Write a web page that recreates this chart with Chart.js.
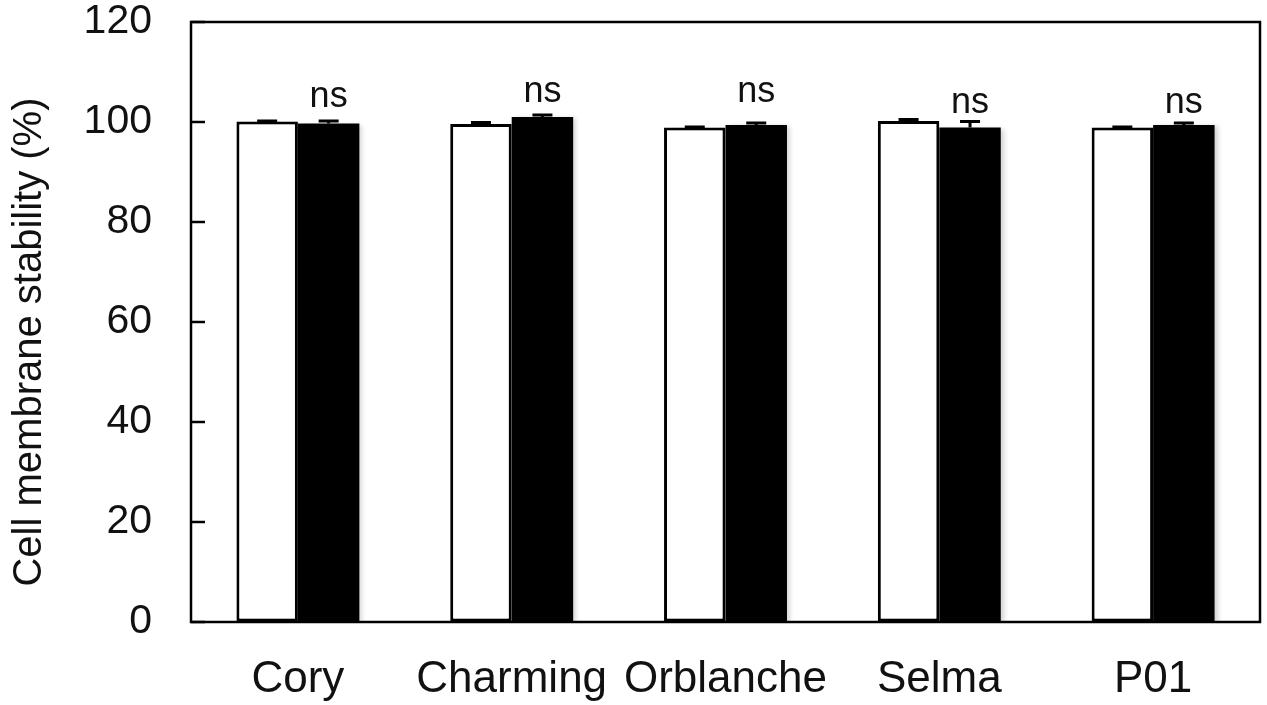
<!DOCTYPE html>
<html lang="en">
<head>
    <meta charset="UTF-8">
    <title>Cell membrane stability</title>
    <script src="https://cdn.jsdelivr.net/npm/chart.js"></script>
    <style>
        body {
            margin: 0;
            padding: 0;
            background-color: #ffffff;
        }
        .wrap {
            width: 1267px;
            height: 705px;
        }
    </style>
</head>
<body>
    <div class="wrap">
        <canvas id="chart"></canvas>
    </div>

    <script>
        // values
        const categories = ['Cory', 'Charming', 'Orblanche', 'Selma', 'P01'];
        const controlValues = [100.1, 99.6, 98.9, 100.2, 98.9];
        const controlErrors = [0.1, 0.3, 0.1, 0.3, 0.1];
        const treatedValues = [99.7, 101.0, 99.4, 98.9, 99.4];
        const treatedErrors = [0.5, 0.4, 0.4, 1.2, 0.4];
        const sigLabels = ['ns', 'ns', 'ns', 'ns', 'ns'];
        const sigLevels = [103.0, 104.0, 104.0, 101.8, 101.8];
        const yTicks = [0, 20, 40, 60, 80, 100, 120];

        const textColor = '#111111';
        const fontFamily = '"Liberation Sans", Arial, sans-serif';

        // soft shadow behind the bars, then frame, inward ticks, error bars and labels
        const decorations = {
            id: 'decorations',
            beforeDatasetsDraw(chart) {
                const ctx = chart.ctx;
                ctx.save();
                ctx.shadowColor = 'rgba(0,0,0,0.18)';
                ctx.shadowBlur = 5;
                ctx.shadowOffsetX = 3;
                ctx.shadowOffsetY = 1;
            },
            afterDatasetsDraw(chart) {
                const ctx = chart.ctx;
                ctx.restore();

                const area = chart.chartArea;
                const yScale = chart.scales.y;
                const errors = [controlErrors, treatedErrors];
                const values = [controlValues, treatedValues];

                ctx.save();
                ctx.strokeStyle = '#000';
                ctx.lineWidth = 3;
                chart.data.datasets.forEach((ds, d) => {
                    chart.getDatasetMeta(d).data.forEach((bar, i) => {
                        const top = yScale.getPixelForValue(values[d][i] + errors[d][i]);
                        ctx.beginPath();
                        ctx.moveTo(bar.x, bar.y);
                        ctx.lineTo(bar.x, top);
                        ctx.moveTo(bar.x - 10, top);
                        ctx.lineTo(bar.x + 10, top);
                        ctx.stroke();
                    });
                });

                // plot frame
                ctx.lineWidth = 2.5;
                ctx.strokeRect(area.left, area.top, area.right - area.left, area.bottom - area.top);

                // tick marks pointing into the plot
                yTicks.forEach(v => {
                    const y = yScale.getPixelForValue(v);
                    ctx.beginPath();
                    ctx.moveTo(area.left, y);
                    ctx.lineTo(area.left + 14, y);
                    ctx.stroke();
                });

                // ns labels over the treated bars
                ctx.fillStyle = textColor;
                ctx.font = '36px ' + fontFamily;
                ctx.textAlign = 'center';
                ctx.textBaseline = 'alphabetic';
                chart.getDatasetMeta(1).data.forEach((bar, i) => {
                    ctx.fillText(sigLabels[i], bar.x, yScale.getPixelForValue(sigLevels[i]));
                });

                // y axis title
                ctx.font = '40px ' + fontFamily;
                ctx.textBaseline = 'middle';
                ctx.translate(30, 342);
                ctx.rotate(-Math.PI / 2);
                ctx.fillText('Cell membrane stability (%)', 0, 0);
                ctx.restore();
            }
        };

        const ctx = document.getElementById('chart').getContext('2d');
        new Chart(ctx, {
            type: 'bar',
            data: {
                labels: categories,
                datasets: [{
                    label: 'Control',
                    data: controlValues,
                    backgroundColor: '#ffffff',
                    borderColor: '#000000',
                    borderWidth: 3,
                    borderSkipped: false
                }, {
                    label: 'Treated',
                    data: treatedValues,
                    backgroundColor: '#000000',
                    borderColor: '#000000',
                    borderWidth: 0
                }]
            },
            options: {
                responsive: true,
                maintainAspectRatio: false,
                animation: false,
                categoryPercentage: 0.575,
                barPercentage: 1.0,
                layout: {
                    padding: { top: 22, right: 7, left: 0, bottom: 0 }
                },
                plugins: {
                    legend: { display: false },
                    tooltip: { enabled: false }
                },
                scales: {
                    x: {
                        grid: { display: false, drawTicks: false },
                        border: { display: false },
                        ticks: {
                            color: textColor,
                            padding: 31,
                            font: { family: fontFamily, size: 44, lineHeight: 1.2 }
                        },
                        afterFit(scale) { scale.height = 83; }
                    },
                    y: {
                        min: 0,
                        max: 120,
                        // invisible outer tick marks push the labels away from the frame
                        grid: {
                            display: true,
                            drawOnChartArea: false,
                            drawTicks: true,
                            tickLength: 39,
                            tickColor: 'rgba(0,0,0,0)'
                        },
                        border: { display: false },
                        afterBuildTicks(scale) {
                            scale.ticks = yTicks.map(v => ({ value: v }));
                        },
                        ticks: {
                            color: textColor,
                            padding: 0,
                            font: { family: fontFamily, size: 41, lineHeight: 1 }
                        },
                        afterFit(scale) { scale.width = 191; }
                    }
                }
            },
            plugins: [decorations]
        });
    </script>
</body>
</html>
